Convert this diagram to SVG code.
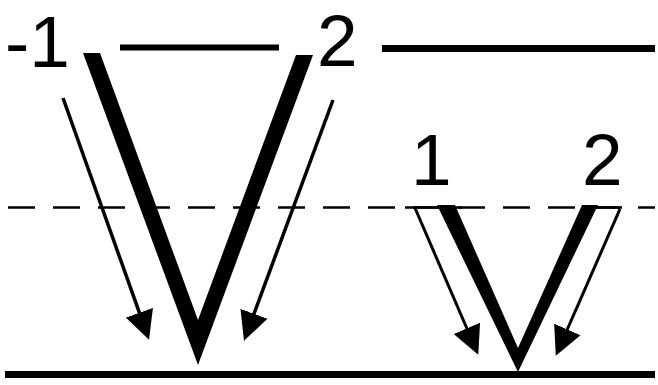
<svg xmlns="http://www.w3.org/2000/svg" width="658" height="385" viewBox="0 0 658 385">
<style>
.lbl{font-family:"Liberation Sans",Arial,sans-serif;font-size:73px;fill:#000}
.ln{stroke:#000;fill:none}
.arr{stroke:#000;stroke-width:3.5;fill:none;marker-end:url(#ah)}
.v{fill:#000}
</style>
<defs>
<marker id="ah" markerUnits="userSpaceOnUse" markerWidth="30" markerHeight="30" viewBox="0 -12 24 24" refX="11" refY="0" orient="auto">
<path d="M0,-11.5 L23,0 L0,11.5 z" fill="#000"/>
</marker>
</defs>
<rect width="658" height="385" fill="#fff"/>
<g id="levels">
<line class="ln" x1="120" y1="47.5" x2="279" y2="47.5" stroke-width="6"/>
<line class="ln" x1="382" y1="48.5" x2="655" y2="48.5" stroke-width="7"/>
<line class="ln" x1="8" y1="207.5" x2="655" y2="207.5" stroke-width="2.5" stroke-dasharray="27 18"/>
<line class="ln" x1="405" y1="207.5" x2="462" y2="207.5" stroke-width="2.5"/>
<line class="ln" x1="583" y1="207.5" x2="622" y2="207.5" stroke-width="2.5"/>
<line class="ln" x1="5" y1="374.5" x2="655" y2="374.5" stroke-width="7"/>
</g>
<g id="big-v">
<polygon class="v" points="83,53 100,53 198,320 296,55 313,55 198,365"/>
</g>
<g id="small-v">
<polygon class="v" points="437,205 455,205 518,348 582,205 598,205 518,372"/>
</g>
<g id="connectors">
<line class="arr" x1="63" y1="98" x2="144" y2="325.7"/>
<line class="arr" x1="333" y1="100" x2="249.2" y2="326.7"/>
<line class="arr" x1="415" y1="208" x2="472.3" y2="341" style="stroke-width:3"/>
<line class="arr" x1="620" y1="209" x2="561.8" y2="342" style="stroke-width:3"/>
</g>
<g id="labels">
<text class="lbl" x="5" y="67">-1</text>
<text class="lbl" x="317" y="66">2</text>
<text class="lbl" x="411" y="185">1</text>
<text class="lbl" x="582" y="185">2</text>
</g>
</svg>
